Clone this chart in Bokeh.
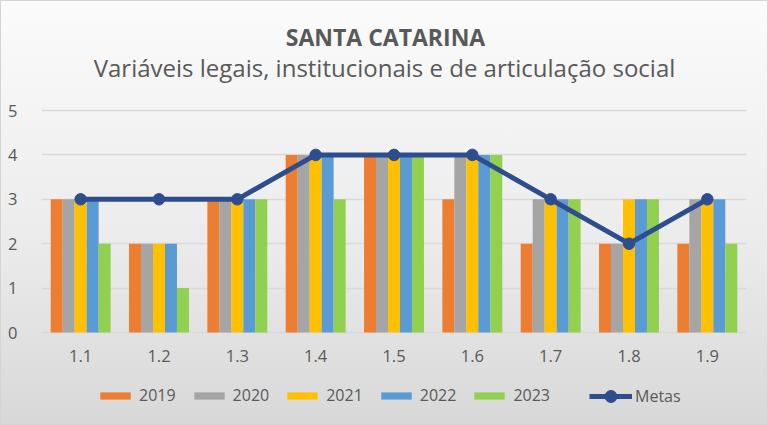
from bokeh.plotting import figure
from bokeh.models import (FactorRange, ColumnDataSource, Legend, LegendItem, Label, Range1d)
from bokeh.transform import dodge
from bokeh.embed import file_html
from bokeh.resources import INLINE

categories = ["1.1", "1.2", "1.3", "1.4", "1.5", "1.6", "1.7", "1.8", "1.9"]
years = ["2019", "2020", "2021", "2022", "2023"]
v2019 = [3, 2, 3, 4, 4, 3, 2, 2, 2]
v2020 = [3, 2, 3, 4, 4, 4, 3, 2, 3]
v2021 = [3, 2, 3, 4, 4, 4, 3, 3, 3]
v2022 = [3, 2, 3, 4, 4, 4, 3, 3, 3]
v2023 = [2, 1, 3, 3, 4, 4, 3, 3, 2]
metas = [3, 3, 3, 4, 4, 4, 3, 2, 3]
y_ticks = [0, 1, 2, 3, 4, 5]

title_text = "SANTA CATARINA"
subtitle_text = "Variáveis legais, institucionais e de articulação social"

colors = ["#ED7D31", "#A5A5A5", "#FFC000", "#5B9BD5", "#92D050"]
meta_color = "#2E4D8F"
text_color = "#595959"
FONT = "Open Sans"

src = ColumnDataSource(dict(x=categories, y2019=v2019, y2020=v2020, y2021=v2021,
                            y2022=v2022, y2023=v2023, metas=metas))

W, H = 768, 425
# frame spans the full height; y-range chosen so 0..5 sit where the reference puts them
px_per_unit = (331 - 109) / 5.0
y_top = 5 + 109 / px_per_unit
y_bot = -(H - 331) / px_per_unit
p = figure(x_range=FactorRange(factors=categories, range_padding=0),
           y_range=Range1d(y_bot, y_top), width=W, height=H, output_backend="svg",
           toolbar_location=None, min_border_left=40, min_border_right=23,
           min_border_top=0, min_border_bottom=0)
p.styles = {"background": "linear-gradient(to bottom, #fbfbfb 0%, #ececec 55%, #d8d8d8 100%)",
            "border": "1px solid #d4d4d4", "box-sizing": "border-box"}
p.background_fill_alpha = 0
p.border_fill_alpha = 0
p.outline_line_color = None

bw = 0.153
offsets = [-2 * bw, -bw, 0, bw, 2 * bw]
cols = ["y2019", "y2020", "y2021", "y2022", "y2023"]
bar_renderers = []
for c, off, col in zip(cols, offsets, colors):
    r = p.vbar(x=dodge("x", off, range=p.x_range), top=c, width=bw, source=src,
               fill_color=col, line_color=None)
    bar_renderers.append(r)

ln = p.line(x="x", y="metas", source=src, line_color=meta_color, line_width=5)
sc = p.scatter(x="x", y="metas", source=src, size=11.5, fill_color=meta_color,
               line_color=meta_color)

# axes
p.xaxis.fixed_location = 0
p.xaxis.axis_line_color = None
p.xaxis.major_tick_line_color = None
p.xaxis.minor_tick_line_color = None
p.xaxis.major_label_text_color = text_color
p.xaxis.major_label_text_font = FONT
p.xaxis.major_label_text_font_size = "16.5px"
p.xaxis.major_label_standoff = 11
p.yaxis.ticker = y_ticks
p.yaxis.axis_line_color = None
p.yaxis.major_tick_line_color = None
p.yaxis.minor_tick_line_color = None
p.yaxis.major_label_text_color = text_color
p.yaxis.major_label_text_font = FONT
p.yaxis.major_label_text_font_size = "16.5px"
p.yaxis.major_label_standoff = 18
p.xgrid.grid_line_color = None
p.ygrid.grid_line_color = "#d9d9d9"
p.ygrid.grid_line_width = 1.5

bar_items = [LegendItem(label=y, renderers=[r]) for y, r in zip(years, bar_renderers)]
legend_bars = Legend(items=bar_items, orientation="horizontal", location=(55, 20),
                     glyph_width=38, glyph_height=9, label_text_font=FONT,
                     label_text_font_size="16px", label_text_color=text_color,
                     spacing=14, label_standoff=5, background_fill_alpha=0,
                     border_line_color=None, padding=0, margin=0)
legend_meta = Legend(items=[LegendItem(label="Metas", renderers=[ln, sc])],
                     orientation="horizontal", location=(548, 15),
                     glyph_width=43, glyph_height=30, label_text_font=FONT,
                     label_text_font_size="16px", label_text_color=text_color,
                     label_standoff=3, background_fill_alpha=0,
                     border_line_color=None, padding=0, margin=0)
p.add_layout(legend_bars, "center")
p.add_layout(legend_meta, "center")

t1 = Label(x=344, y=5 + (109 - 35) / px_per_unit, x_units="screen", y_units="data",
           text=title_text, text_font=FONT, text_font_style="bold",
           text_font_size="23px", text_color=text_color, text_align="center",
           text_baseline="alphabetic")
t2 = Label(x=343, y=5 + (109 - 66) / px_per_unit, x_units="screen", y_units="data",
           text=subtitle_text, text_font=FONT, text_font_size="24px",
           text_color=text_color, text_align="center", text_baseline="alphabetic")
p.add_layout(t1)
p.add_layout(t2)

open("out.html", "w").write(file_html(p, INLINE))
